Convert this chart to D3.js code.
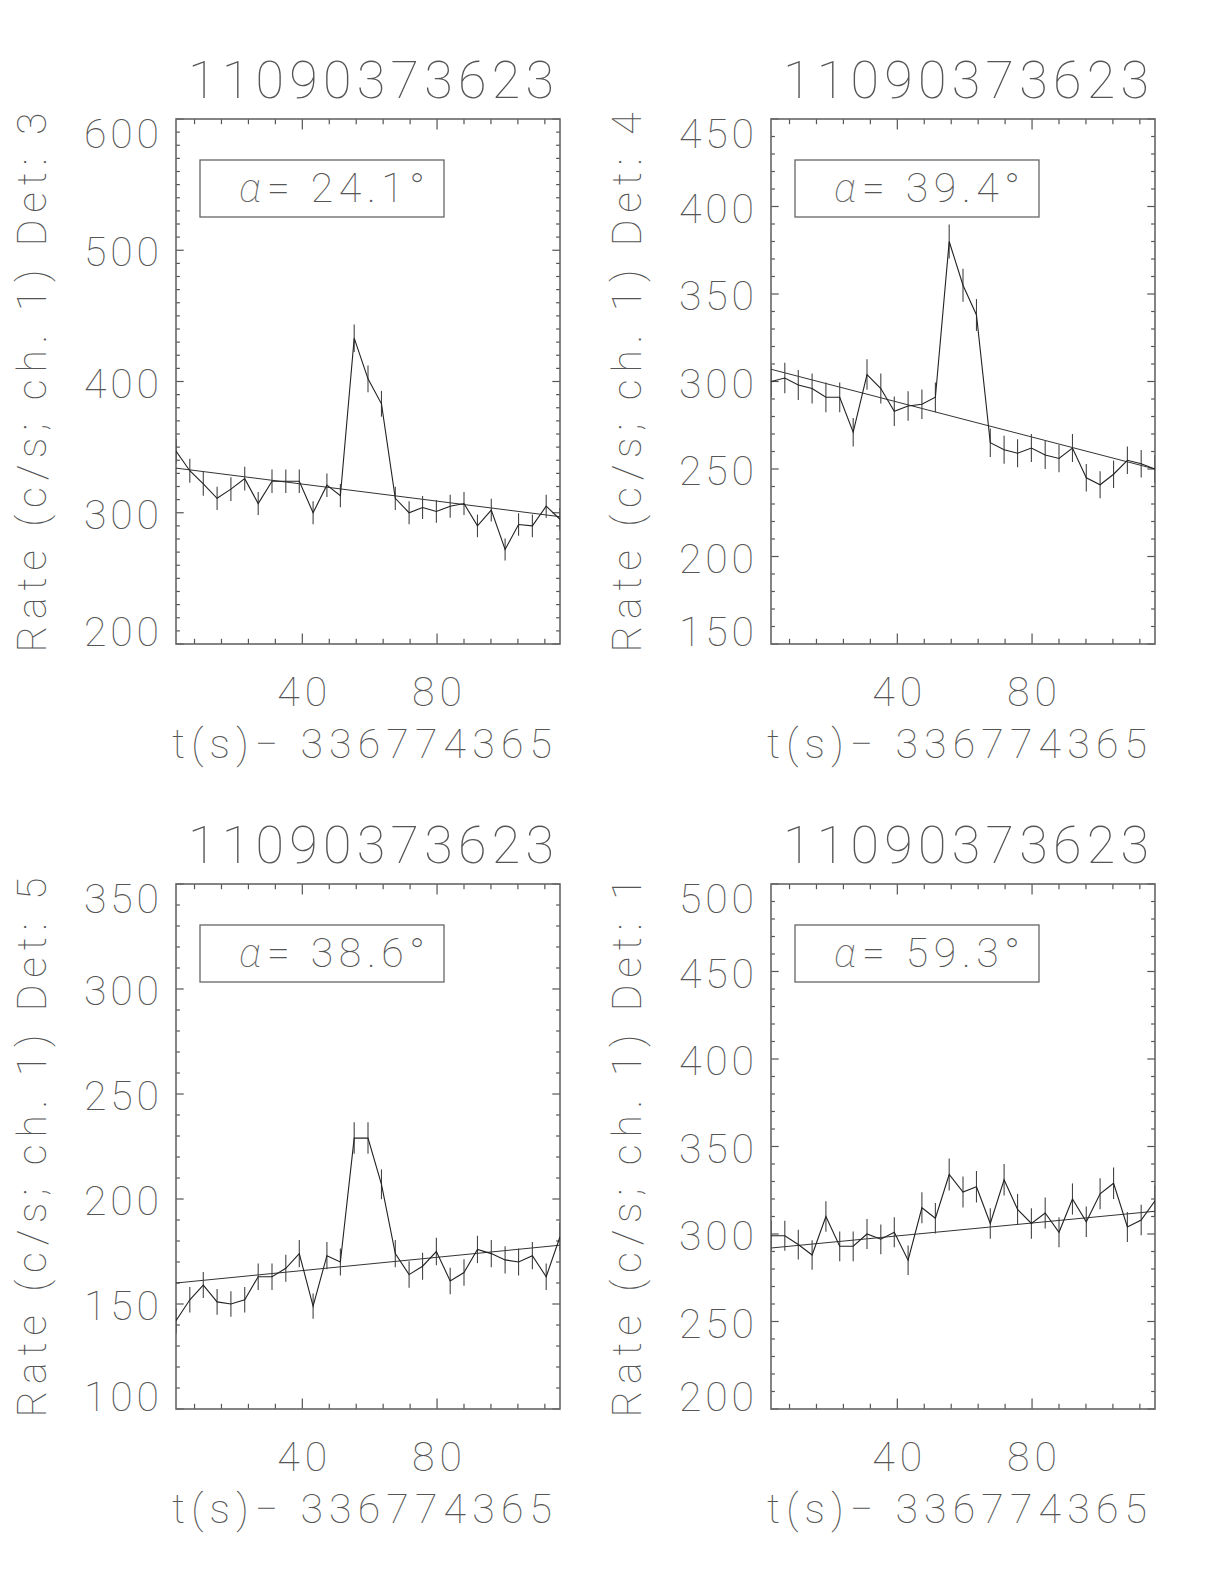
<!DOCTYPE html>
<meta charset="utf-8">
<head>
  <title>Detector rate curves, burst 11090373623</title>
</head>

<style>
body { margin: 0; background: #fff; }
text {
  font-family: Roboto, "DejaVu Sans", sans-serif;
  font-weight: 100;
  fill: #555;
}
.frame { fill: none; stroke: #666; stroke-width: 1.6; }
.tick { stroke: #555; stroke-width: 1.2; }
.rate { fill: none; stroke: #222; stroke-width: 1.1; }
.err { stroke: #444; stroke-width: 1.1; }
.fit { stroke: #333; stroke-width: 1; }
.box { fill: none; stroke: #666; stroke-width: 1.3; }
.greek { font-family: Roboto, sans-serif; font-style: italic; font-weight: 100; fill: #666; }
</style>

<body>
<svg width="1224" height="1584"></svg>

<script src="https://cdnjs.cloudflare.com/ajax/libs/d3/7.8.5/d3.min.js"></script>
<script>

// time bins (s after 336774365)
var times = [2.5, 6.6, 10.6, 14.7, 18.8, 22.9, 26.9, 31.0, 35.1, 39.1,
             43.2, 47.3, 51.3, 55.4, 59.5, 63.5, 67.6, 71.7, 75.7, 79.8,
             83.9, 88.0, 92.0, 96.1, 100.2, 104.2, 108.3, 112.4, 116.5];

var burstId = "11090373623";
var xTitle = "t(s)\u2212 336774365";
var xMajor = [40, 80];

// detector 3
var det3Rate = [347, 332, 322, 311, 318, 326, 307, 324, 324, 324,
                300, 321, 313, 433, 402, 383, 311, 300, 304, 301,
                305, 307, 290, 302, 272, 291, 290, 305, 295];
var det3Err = [9.4, 9.2, 9.0, 8.9, 9.0, 9.1, 8.8, 9.0, 9.0, 9.0,
               8.7, 9.0, 8.9, 10.5, 10.1, 9.8, 8.9, 8.7, 8.7, 8.7,
               8.8, 8.8, 8.6, 8.7, 8.3, 8.6, 8.6, 8.8, 8.6];
var det3Fit = [334, 297];

// detector 4
var det4Rate = [300, 302, 298, 296, 291, 291, 271, 304, 296, 283,
                286, 287, 291, 380, 355, 338, 265, 261, 259, 262,
                258, 256, 262, 245, 241, 247, 255, 253, 250];
var det4Err = [8.7, 8.7, 8.6, 8.6, 8.5, 8.5, 8.2, 8.7, 8.6, 8.4,
               8.4, 8.4, 8.5, 9.7, 9.4, 9.1, 8.1, 8.0, 8.0, 8.0,
               8.0, 7.9, 8.0, 7.8, 7.7, 7.8, 7.9, 7.9, 7.8];
var det4Fit = [307, 250];

// detector 5
var det5Rate = [142, 152, 159, 151, 150, 152, 163, 163, 167, 174,
                149, 173, 170, 229, 229, 207, 174, 164, 168, 175,
                161, 165, 176, 174, 171, 170, 173, 163, 182];
var det5Err = [5.9, 6.1, 6.2, 6.1, 6.1, 6.1, 6.3, 6.3, 6.4, 6.5,
               6.0, 6.5, 6.4, 7.5, 7.5, 7.1, 6.5, 6.3, 6.4, 6.5,
               6.3, 6.3, 6.5, 6.5, 6.5, 6.4, 6.5, 6.3, 6.7];
var det5Fit = [160, 178];

// detector 1
var det1Rate = [299, 299, 294, 288, 310, 293, 293, 300, 297, 301,
                285, 315, 309, 334, 324, 327, 306, 331, 314, 306,
                312, 301, 320, 307, 323, 329, 304, 308, 319];
var det1Err = [8.6, 8.6, 8.5, 8.4, 8.7, 8.5, 8.5, 8.6, 8.5, 8.6,
               8.4, 8.8, 8.7, 9.1, 8.9, 9.0, 8.7, 9.0, 8.8, 8.7,
               8.8, 8.6, 8.9, 8.7, 8.9, 9.0, 8.6, 8.7, 8.9];
var det1Fit = [292, 313];

var detectors = ["3", "4", "5", "1"];
var alphas = ["24.1", "39.4", "38.6", "59.3"];
var yRanges = [[200, 600], [150, 450], [100, 350], [200, 500]];
var yMajors = [100, 50, 50, 50];

var panels = [
  { det: detectors[0], rate: det3Rate, err: det3Err, fit: det3Fit, alpha: alphas[0], y: yRanges[0], major: yMajors[0], left: 176, top: 119 },
  { det: detectors[1], rate: det4Rate, err: det4Err, fit: det4Fit, alpha: alphas[1], y: yRanges[1], major: yMajors[1], left: 771, top: 119 },
  { det: detectors[2], rate: det5Rate, err: det5Err, fit: det5Fit, alpha: alphas[2], y: yRanges[2], major: yMajors[2], left: 176, top: 884 },
  { det: detectors[3], rate: det1Rate, err: det1Err, fit: det1Fit, alpha: alphas[3], y: yRanges[3], major: yMajors[3], left: 771, top: 884 }
];

var W = 384, H = 525;
var svg = d3.select("svg");

panels.forEach(function(p) {
  var g = svg.append("g").attr("transform", "translate(" + p.left + "," + p.top + ")");

  var x = d3.scaleLinear().domain([times[0], times[times.length - 1]]).range([0, W]);
  var y = d3.scaleLinear().domain(p.y).range([H, 0]);

  // ticks on all four sides
  var xMinor = d3.range(8, 117, 8).filter(function(v) { return xMajor.indexOf(v) < 0 && v > times[0]; });
  var yMajorT = d3.range(p.y[0], p.y[1] + 0.1, p.major);
  var yMinorT = d3.range(p.y[0], p.y[1] + 0.1, 10).filter(function(v) { return yMajorT.indexOf(v) < 0; });

  function xTicks(vals, len) {
    vals.forEach(function(v) {
      g.append("line").attr("class", "tick").attr("x1", x(v)).attr("x2", x(v)).attr("y1", H).attr("y2", H - len);
      g.append("line").attr("class", "tick").attr("x1", x(v)).attr("x2", x(v)).attr("y1", 0).attr("y2", len);
    });
  }
  function yTicks(vals, len) {
    vals.forEach(function(v) {
      g.append("line").attr("class", "tick").attr("x1", 0).attr("x2", len).attr("y1", y(v)).attr("y2", y(v));
      g.append("line").attr("class", "tick").attr("x1", W).attr("x2", W - len).attr("y1", y(v)).attr("y2", y(v));
    });
  }
  xTicks(xMinor, 5.2);
  xTicks(xMajor, 10.5);
  yTicks(yMinorT, 3.9);
  yTicks(yMajorT, 7.7);

  g.append("rect").attr("class", "frame").attr("width", W).attr("height", H);

  // tick labels
  xMajor.forEach(function(v) {
    var s = String(v);
    g.append("text").attr("x", x(v)).attr("y", H + 62)
      .attr("text-anchor", "middle").attr("font-size", 41)
      .attr("textLength", s.length * 25).attr("lengthAdjust", "spacing")
      .text(s);
  });
  yMajorT.forEach(function(v) {
    var s = String(v);
    var by = y(v) + 16;
    if (v === p.y[1]) by = 29;
    if (v === p.y[0]) by = H + 1.5;
    g.append("text").attr("x", -17).attr("y", by)
      .attr("text-anchor", "end").attr("font-size", 41)
      .attr("textLength", s.length * 25).attr("lengthAdjust", "spacing")
      .text(s);
  });

  // titles
  g.append("text").attr("x", W / 2 + 3).attr("y", -21)
    .attr("text-anchor", "middle").attr("font-size", 52)
    .attr("textLength", 366).attr("lengthAdjust", "spacing")
    .text(burstId);
  g.append("text").attr("x", W / 2 - 6).attr("y", H + 114)
    .attr("text-anchor", "middle").attr("font-size", 41)
    .attr("textLength", 380).attr("lengthAdjust", "spacing")
    .text(xTitle);
  g.append("text")
    .attr("transform", "translate(" + (-130) + "," + (H / 2 + 1) + ") rotate(-90)")
    .attr("text-anchor", "middle").attr("font-size", 41)
    .attr("textLength", 540).attr("lengthAdjust", "spacing")
    .text("Rate (c/s; ch. 1) Det: " + p.det);

  // clipped plot content
  var clipId = "clip" + p.det;
  g.append("clipPath").attr("id", clipId).append("rect").attr("width", W).attr("height", H);
  var plot = g.append("g").attr("clip-path", "url(#" + clipId + ")");

  var pts = times.map(function(t, i) { return { t: t, r: p.rate[i], e: p.err[i] }; });

  plot.append("line").attr("class", "fit")
    .attr("x1", x(times[0])).attr("y1", y(p.fit[0]))
    .attr("x2", x(times[times.length - 1])).attr("y2", y(p.fit[1]));

  plot.selectAll("line.err").data(pts).enter().append("line").attr("class", "err")
    .attr("x1", function(d) { return x(d.t); }).attr("x2", function(d) { return x(d.t); })
    .attr("y1", function(d) { return y(d.r - d.e); }).attr("y2", function(d) { return y(d.r + d.e); });

  plot.append("path").attr("class", "rate")
    .attr("d", d3.line().x(function(d) { return x(d.t); }).y(function(d) { return y(d.r); })(pts));

  // legend box
  g.append("rect").attr("class", "box").attr("x", 24).attr("y", 41).attr("width", 244).attr("height", 57);
  var lt = g.append("text").attr("x", 63).attr("y", 83).attr("font-size", 41)
    .attr("textLength", 186).attr("lengthAdjust", "spacing");
  lt.append("tspan").attr("class", "greek").text("\u03b1");
  lt.append("tspan").text("= " + p.alpha + "\u00b0");
});

</script>
</body>
</html>
